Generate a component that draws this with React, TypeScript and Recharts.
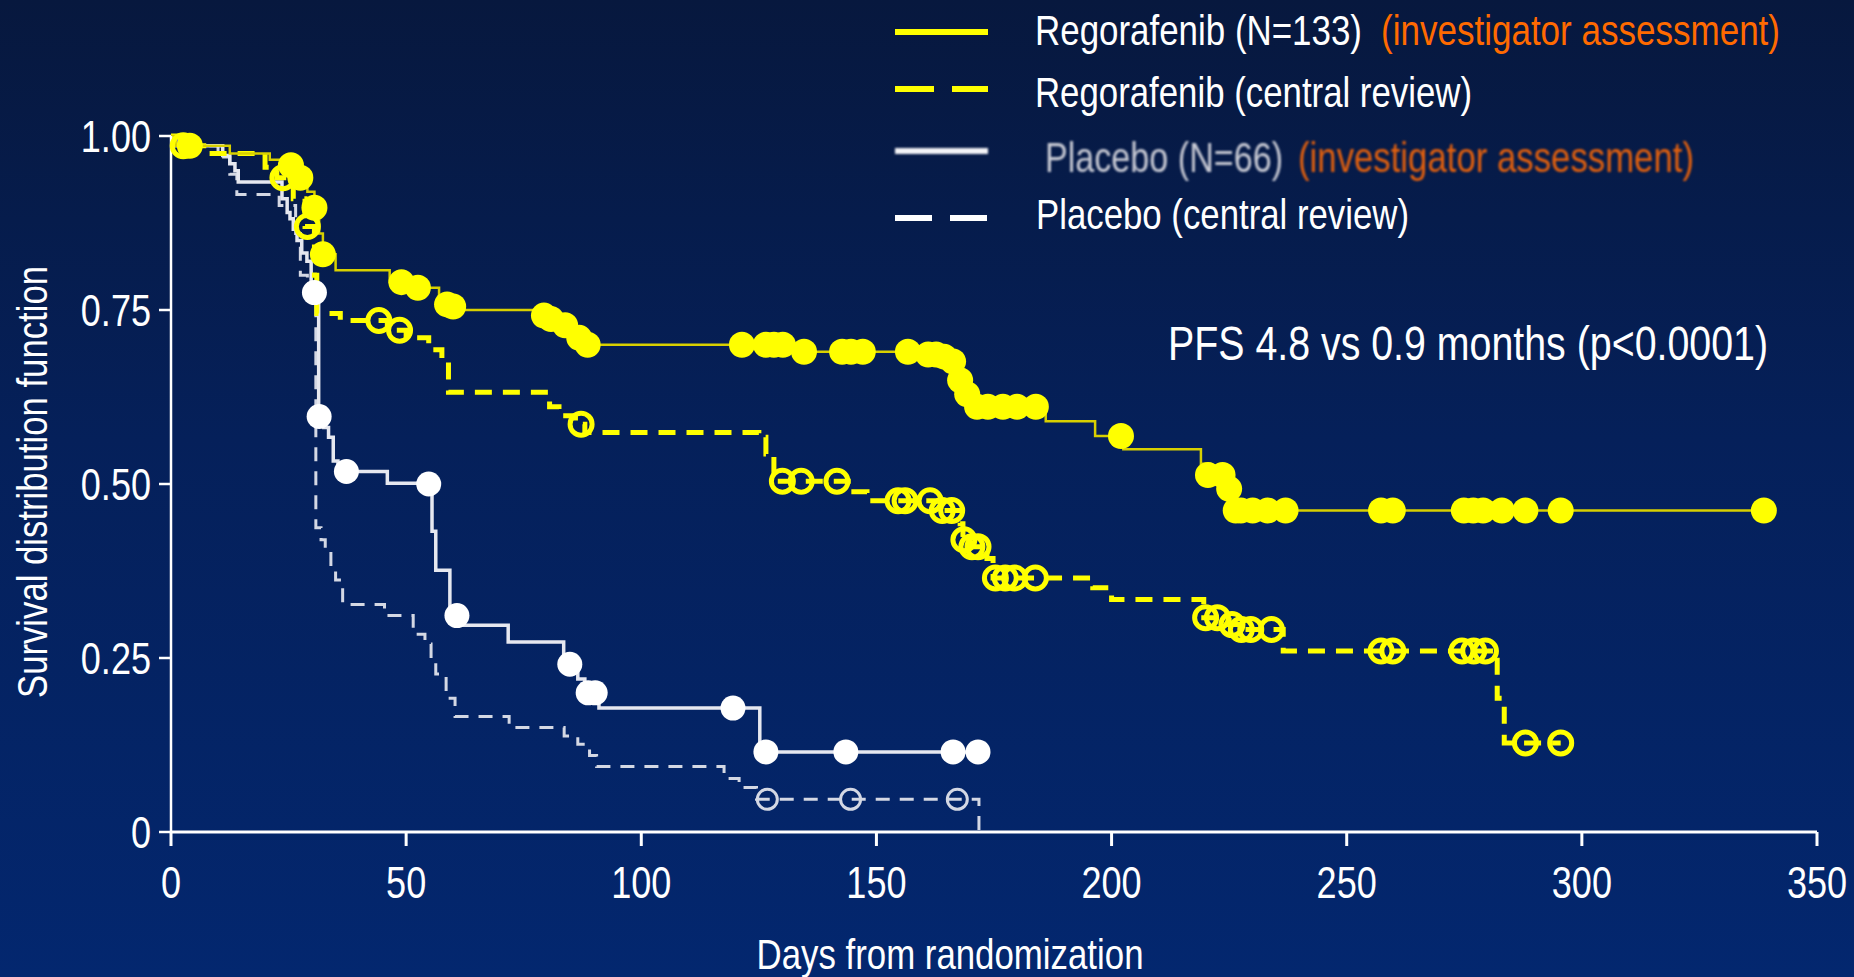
import React from 'react';
import { ComposedChart, Line, Scatter, XAxis, YAxis } from 'recharts';

// Kaplan-Meier steps, [day, survival probability]
const regoInvestigator: [number, number][] = [
  [0, 1], [1, 0.986], [12.5, 0.975], [21, 0.966], [25, 0.958], [27.5, 0.94], [29, 0.92],
  [30.5, 0.897], [31.5, 0.86], [32.3, 0.83], [35, 0.807], [46.5, 0.79], [51, 0.782],
  [57, 0.758], [62, 0.75], [78.5, 0.742], [80.5, 0.737], [83, 0.728], [86, 0.71], [88, 0.7],
  [133.5, 0.69], [160, 0.683], [166, 0.676], [167.8, 0.649], [169.3, 0.629], [171.4, 0.611],
  [186, 0.59], [196.5, 0.569], [202.5, 0.55], [219, 0.529], [221, 0.513], [224.5, 0.493],
  [226, 0.462], [338.7, 0.462],
];

const regoCentral: [number, number][] = [
  [0, 1], [2, 0.986], [8, 0.975], [20, 0.955], [22.5, 0.94], [26, 0.91], [28.5, 0.87],
  [30.5, 0.8], [31, 0.745], [36, 0.735], [46, 0.721], [50, 0.71], [54.8, 0.693],
  [57.6, 0.676], [59, 0.632], [80.5, 0.611], [82.5, 0.598], [86, 0.586], [88, 0.574],
  [125, 0.567], [126.5, 0.543], [128.2, 0.504], [144, 0.489], [148, 0.476], [163.5, 0.462],
  [167.8, 0.443], [168.4, 0.42], [170, 0.41], [173.5, 0.393], [174.8, 0.365], [196, 0.351],
  [200, 0.334], [219.6, 0.308], [225, 0.298], [227, 0.291], [236.5, 0.26], [282, 0.192],
  [283.5, 0.128], [295.5, 0.128],
];

const placeboInvestigator: [number, number][] = [
  [0, 1], [1, 0.986], [11, 0.972], [12.5, 0.96], [13.6, 0.95], [14.3, 0.934], [23.6, 0.91],
  [24.7, 0.89], [25.3, 0.881], [26, 0.866], [26.8, 0.85], [27.8, 0.832], [28.9, 0.82],
  [29.8, 0.775], [31.4, 0.597], [32.5, 0.581], [33.5, 0.567], [34.5, 0.533], [35.5, 0.518],
  [46, 0.501], [55.5, 0.432], [56.3, 0.376], [59.3, 0.311], [62, 0.297], [71.7, 0.273],
  [83.5, 0.241], [86.5, 0.22], [88, 0.2], [91, 0.178], [125.2, 0.115], [173.7, 0.115],
];

const placeboCentral: [number, number][] = [
  [0, 1], [1, 0.986], [10, 0.97], [12.5, 0.945], [14, 0.916], [23, 0.9], [26.5, 0.86],
  [27.5, 0.8], [29, 0.78], [30.8, 0.437], [31.9, 0.42], [32.8, 0.4], [34, 0.382],
  [35, 0.362], [36.5, 0.327], [45.4, 0.311], [51.5, 0.284], [54, 0.27], [55.3, 0.249],
  [56.3, 0.227], [58.5, 0.192], [60.4, 0.166], [71.9, 0.15], [83.6, 0.138], [86.5, 0.126],
  [89, 0.11], [90.5, 0.094], [117.6, 0.077], [120.8, 0.064], [124.5, 0.047], [171.8, 0],
];

// censored patients, [day, survival at censoring]
const regoInvestigatorCensored: [number, number][] = [
  [4, 0.986], [25.5, 0.958], [27.5, 0.94], [30.5, 0.897], [32.3, 0.83], [49, 0.79],
  [52.5, 0.782], [58.7, 0.758], [60, 0.755], [79.3, 0.742], [80.8, 0.737], [83.8, 0.728],
  [86.8, 0.71], [88.6, 0.7], [121.4, 0.7], [126.5, 0.7], [128.2, 0.7], [130.1, 0.7],
  [134.6, 0.69], [142.7, 0.69], [144.6, 0.69], [147.1, 0.69], [156.7, 0.69], [161, 0.686],
  [162.7, 0.686], [164.4, 0.683], [166.3, 0.676], [167.8, 0.649], [169.3, 0.629],
  [171.4, 0.611], [173.7, 0.611], [176.9, 0.611], [179.9, 0.611], [183.9, 0.611],
  [202, 0.569], [220.5, 0.513], [223.6, 0.513], [225, 0.493], [226.4, 0.462], [227.5, 0.462],
  [230, 0.462], [233.2, 0.462], [237, 0.462], [257.3, 0.462], [259.8, 0.462], [274.9, 0.462],
  [276.9, 0.462], [279, 0.462], [283, 0.462], [288, 0.462], [295.5, 0.462], [338.7, 0.462],
];

const regoCentralCensored: [number, number][] = [
  [2.6, 0.986], [23.8, 0.94], [29, 0.87], [44.2, 0.735], [48.6, 0.721], [87.2, 0.586],
  [130, 0.504], [134, 0.504], [141.6, 0.504], [154.6, 0.476], [156.1, 0.476], [161.4, 0.476],
  [164, 0.462], [166, 0.462], [168.6, 0.42], [170.3, 0.41], [171.6, 0.41], [175.3, 0.365],
  [177.4, 0.365], [179.4, 0.365], [183.8, 0.365], [220, 0.308], [222.5, 0.308],
  [225.6, 0.298], [227.6, 0.291], [229.6, 0.291], [234, 0.291], [257.3, 0.26], [259.8, 0.26],
  [274.5, 0.26], [277, 0.26], [279.5, 0.26], [288, 0.128], [295.5, 0.128],
];

const placeboInvestigatorCensored: [number, number][] = [
  [30.5, 0.775], [31.5, 0.597], [37.3, 0.518], [54.8, 0.5], [60.8, 0.311], [84.8, 0.241],
  [88.7, 0.2], [90.2, 0.2], [119.5, 0.178], [126.5, 0.115], [143.5, 0.115], [166.3, 0.115],
  [171.6, 0.115],
];

const placeboCentralCensored: [number, number][] = [
  [126.8, 0.047], [144.5, 0.047], [167.2, 0.047],
];

const xTicks = [0, 50, 100, 150, 200, 250, 300, 350];
const yTicks = [0, 0.25, 0.5, 0.75, 1];

const FONT = '"Liberation Sans", Arial, sans-serif';
const NARROW = 0.82; // horizontal squeeze, the slide font is a condensed face
const YELLOW = '#ffff00';
const ORANGE = '#ff6a00';

const toPoints = (rows: [number, number][]) => rows.map(([t, s]) => ({ t, s }));

const squeeze = (x: number) => `translate(${x} 0) scale(${NARROW} 1) translate(${-x} 0)`;

const XTick = (props: any) => {
  const { x, y, payload } = props;
  return (
    <text x={x} y={y} dy="0.71em" textAnchor="middle" fill="#ffffff" fontSize={44}
      fontFamily={FONT} transform={squeeze(x)}>
      {payload.value}
    </text>
  );
};

const YTick = (props: any) => {
  const { x, y, payload } = props;
  const v = payload.value as number;
  return (
    <text x={x} y={y} dy="0.355em" textAnchor="end" fill="#ffffff" fontSize={44}
      fontFamily={FONT} transform={squeeze(x)}>
      {v === 0 ? '0' : v.toFixed(2)}
    </text>
  );
};

const filledDot = (fill: string, r: number) => (props: any) => (
  <circle cx={props.cx} cy={props.cy} r={r} fill={fill} style={{ filter: 'blur(0.6px)' }} />
);

const openDot = (stroke: string, r: number, width: number) => (props: any) => (
  <circle cx={props.cx} cy={props.cy} r={r} fill="none" stroke={stroke} strokeWidth={width} />
);

// legend, annotation and axis titles drawn on top of the chart
const Overlay = () => (
  <svg
    width={1854}
    height={977}
    style={{ position: 'absolute', left: 0, top: 0, pointerEvents: 'none' }}
  >
    <g fontFamily={FONT} fontSize={42}>
      <line x1={895} x2={988} y1={32} y2={32} stroke={YELLOW} strokeWidth={6} />
      <text x={1035} y={45} fill="#ffffff" textLength={327} lengthAdjust="spacingAndGlyphs">
        Regorafenib (N=133)
      </text>
      <text x={1381} y={45} fill={ORANGE} textLength={399} lengthAdjust="spacingAndGlyphs">
        (investigator assessment)
      </text>

      <line x1={895} x2={988} y1={89} y2={89} stroke={YELLOW} strokeWidth={6} strokeDasharray="39 18" />
      <text x={1035} y={107} fill="#ffffff" textLength={437} lengthAdjust="spacingAndGlyphs">
        Regorafenib (central review)
      </text>

      <g style={{ filter: 'blur(0.8px)' }}>
        <line x1={895} x2={988} y1={151} y2={151} stroke="#f2f2f6" strokeWidth={6} />
        <text x={1045} y={172} fill="#c8cad4" textLength={238} lengthAdjust="spacingAndGlyphs">
          Placebo (N=66)
        </text>
        <text x={1298} y={172} fill="#e2600e" textLength={396} lengthAdjust="spacingAndGlyphs">
          (investigator assessment)
        </text>
      </g>

      <line x1={895} x2={988} y1={218} y2={218} stroke="#ffffff" strokeWidth={6} strokeDasharray="37 18" />
      <text x={1036} y={229} fill="#ffffff" textLength={373} lengthAdjust="spacingAndGlyphs">
        Placebo (central review)
      </text>

      <text x={1168} y={360} fill="#ffffff" fontSize={48} textLength={600} lengthAdjust="spacingAndGlyphs">
        PFS 4.8 vs 0.9 months (p&lt;0.0001)
      </text>

      <text x={950} y={969} fill="#ffffff" textAnchor="middle" textLength={387} lengthAdjust="spacingAndGlyphs">
        Days from randomization
      </text>
      <text
        transform="translate(32 482) rotate(-90)"
        dy="0.355em"
        fill="#ffffff"
        textAnchor="middle"
        textLength={432}
        lengthAdjust="spacingAndGlyphs"
      >
        Survival distribution function
      </text>
    </g>
  </svg>
);

export default function App() {
  return (
    <div
      style={{
        position: 'relative',
        width: 1854,
        height: 977,
        overflow: 'hidden',
        background: 'linear-gradient(180deg, #07183e 0%, #05205a 45%, #03276f 100%)',
      }}
    >
      <style>{'body { margin: 0; }'}</style>
      <ComposedChart width={1854} height={977} margin={{ top: 136, right: 37, left: 0, bottom: 0 }}>
        <XAxis
          dataKey="t"
          type="number"
          domain={[0, 350]}
          ticks={xTicks}
          height={145}
          stroke="#ffffff"
          strokeWidth={3}
          tickSize={14}
          tickMargin={21}
          tick={XTick}
        />
        <YAxis
          dataKey="s"
          type="number"
          domain={[0, 1]}
          ticks={yTicks}
          width={171}
          stroke="#ffffff"
          strokeWidth={2.5}
          tickSize={12}
          tickMargin={8}
          tick={YTick}
        />

        <Line
          data={toPoints(placeboCentral)}
          dataKey="s"
          type="stepAfter"
          stroke="#d4d8e4"
          strokeWidth={3}
          strokeDasharray="14 10"
          dot={false}
          activeDot={false}
          isAnimationActive={false}
        />
        <Line
          data={toPoints(placeboInvestigator)}
          dataKey="s"
          type="stepAfter"
          stroke="#e6e8f0"
          strokeWidth={3.5}
          dot={false}
          activeDot={false}
          isAnimationActive={false}
        />
        <Line
          data={toPoints(regoCentral)}
          dataKey="s"
          type="stepAfter"
          stroke={YELLOW}
          strokeWidth={5}
          strokeDasharray="17 11"
          dot={false}
          activeDot={false}
          isAnimationActive={false}
        />
        <Line
          data={toPoints(regoInvestigator)}
          dataKey="s"
          type="stepAfter"
          stroke="#d8d000"
          strokeWidth={2.5}
          dot={false}
          activeDot={false}
          isAnimationActive={false}
        />

        <Scatter
          data={toPoints(placeboCentralCensored)}
          shape={openDot('#d4d8e4', 10, 3)}
          isAnimationActive={false}
        />
        <Scatter
          data={toPoints(placeboInvestigatorCensored)}
          shape={filledDot('#ffffff', 12.5)}
          isAnimationActive={false}
        />
        <Scatter
          data={toPoints(regoCentralCensored)}
          shape={openDot(YELLOW, 11, 5)}
          isAnimationActive={false}
        />
        <Scatter
          data={toPoints(regoInvestigatorCensored)}
          shape={filledDot(YELLOW, 13)}
          isAnimationActive={false}
        />
      </ComposedChart>
      <Overlay />
    </div>
  );
}
